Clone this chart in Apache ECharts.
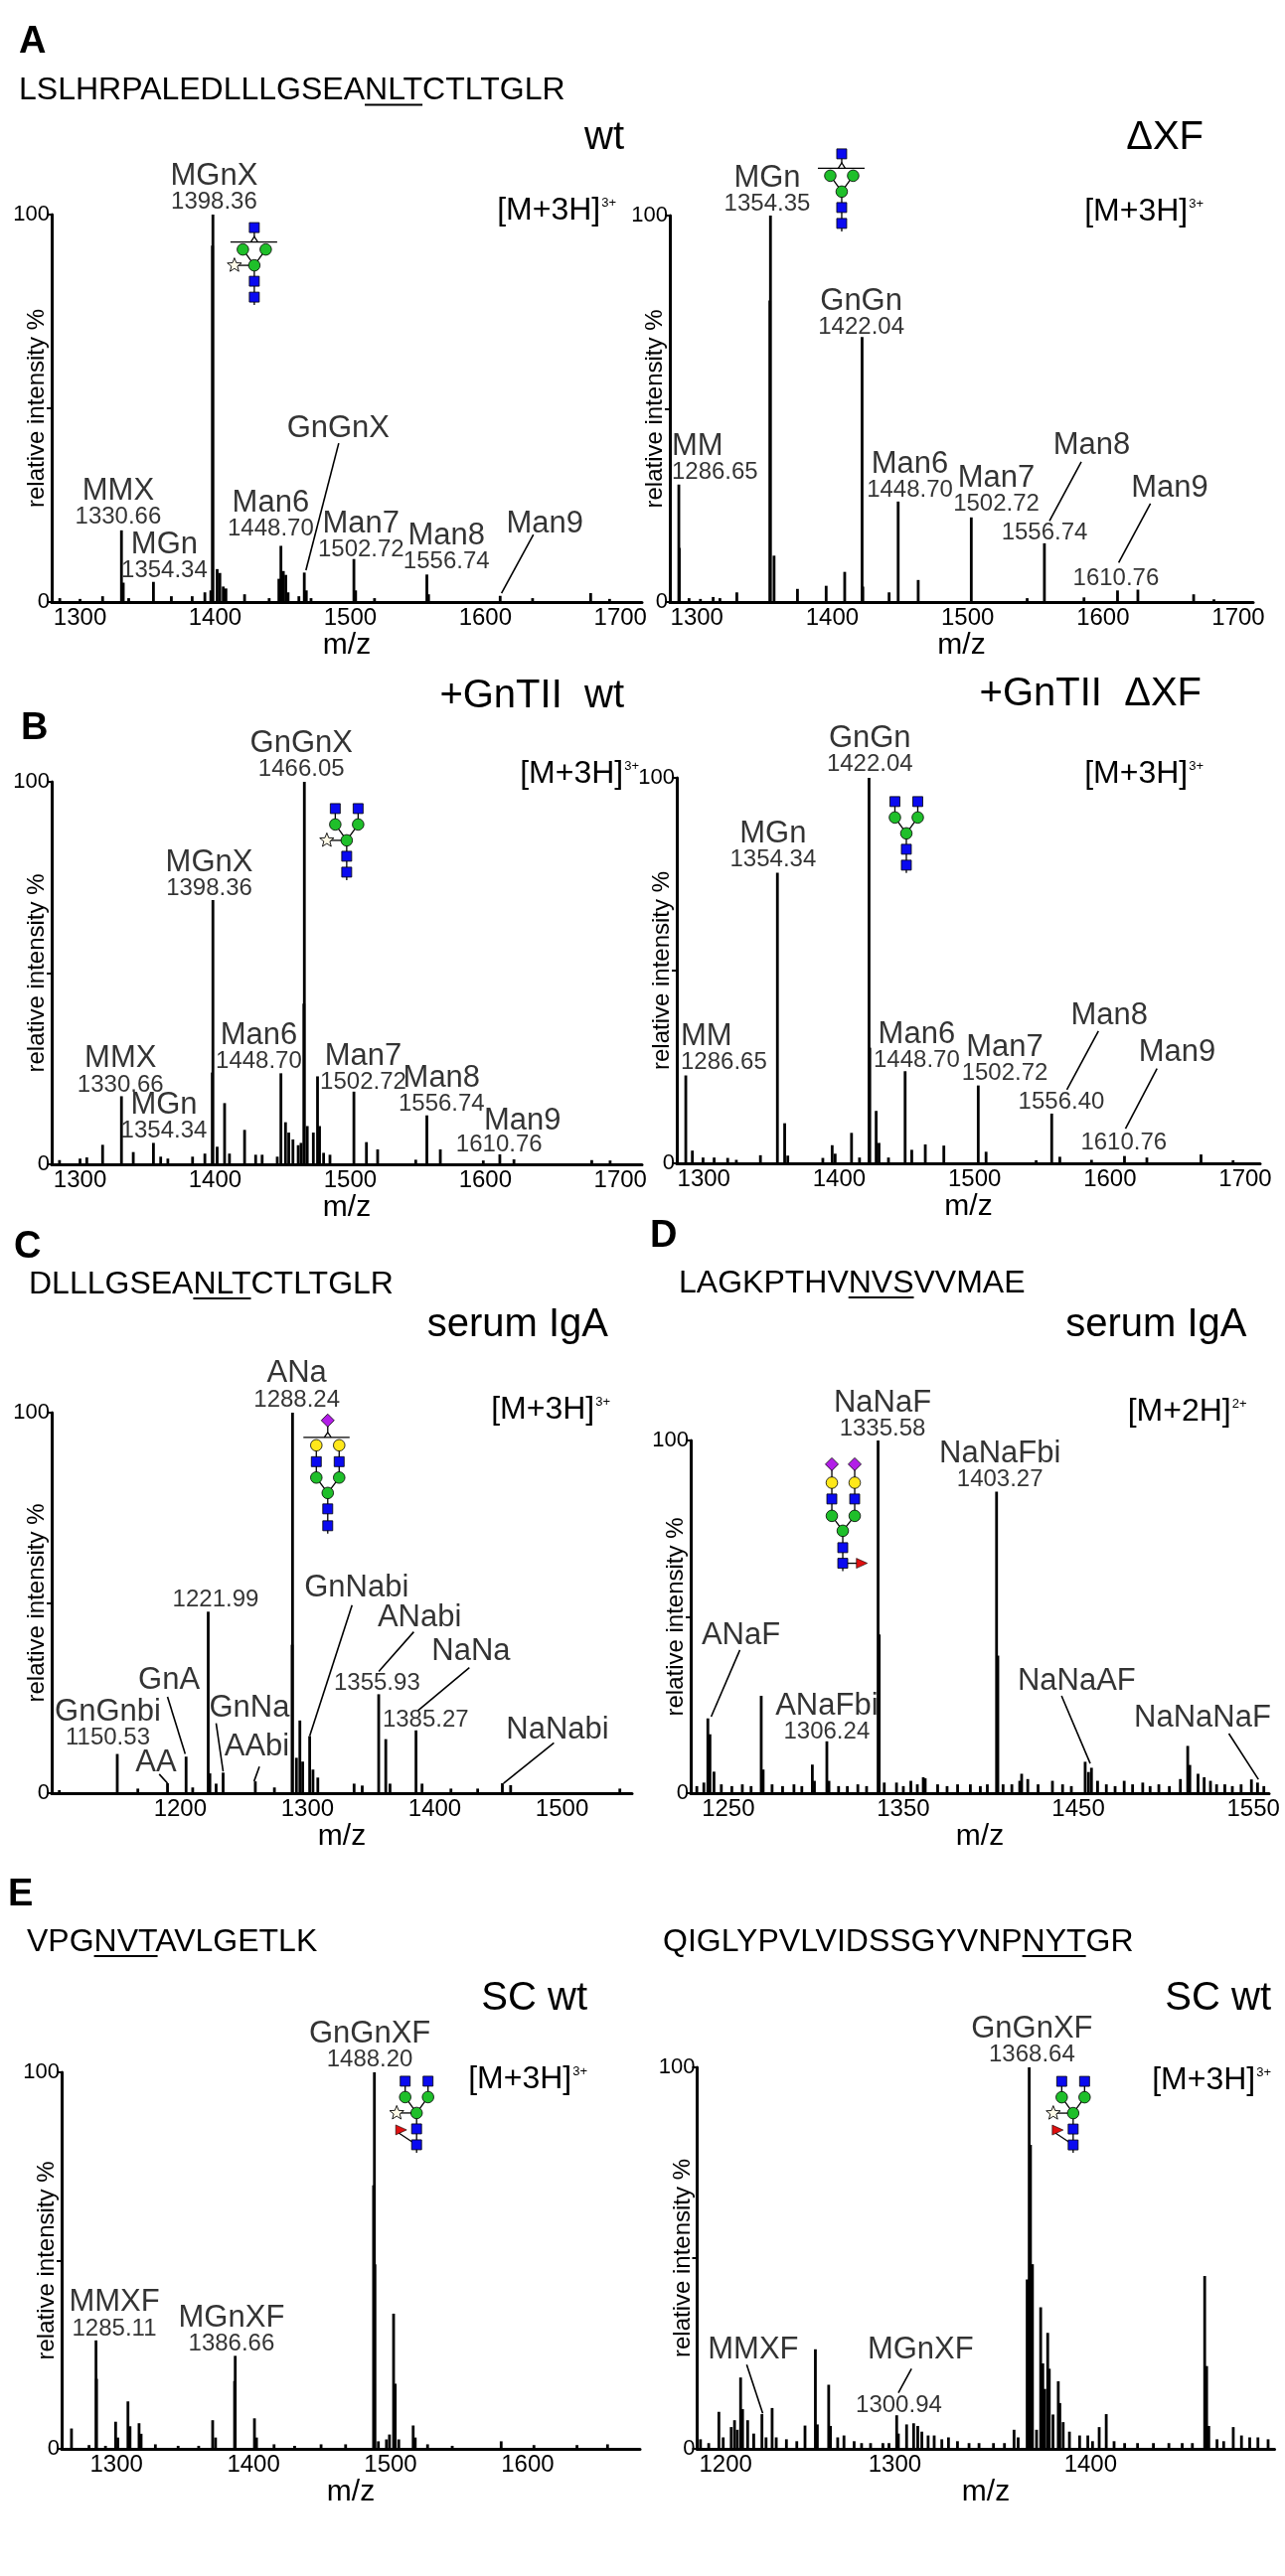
<!DOCTYPE html>
<html>
<head>
<meta charset="utf-8">
<title>Glycopeptide mass spectra</title>
<script src="https://cdn.jsdelivr.net/npm/echarts@6/dist/echarts.min.js"></script>
<style>
html,body{margin:0;padding:0;background:#fff;}
#main{width:1293px;height:2593px;}
</style>
</head>
<body>
<div id="main"></div>
<script>
// ---- tick labels (m/z) ----
var ticksAB = [1300, 1400, 1500, 1600, 1700];
var ticksC = [1200, 1300, 1400, 1500];
var ticksD = [1250, 1350, 1450, 1550];
var ticksE1 = [1300, 1400, 1500, 1600];
var ticksE2 = [1200, 1300, 1400];

// ---- spectra: [m/z, relative intensity %] ----
var peaksA1 = [[1285,1.0],[1300,0.8],[1316.7,1.5],[1330.66,18.5],[1332,5],[1336,1],[1354.34,5.2],[1367.6,1.5],[1383,1.5],[1392.4,2.5],[1396.8,3],[1398.0,92],[1398.36,100],[1401.5,8.5],[1403.5,7.5],[1406,4],[1408,3.5],[1421.8,2],[1440,1],[1447.2,6],[1448.7,14.5],[1450.5,8],[1452.3,7],[1454,2.5],[1462,1.5],[1466,7.6],[1467.5,3],[1471,1],[1502.72,11.1],[1504,3],[1518,1],[1556.74,7.1],[1558,2],[1611,1.6],[1635,1],[1678,2.3],[1692,0.8]];
var peaksA2 = [[1286.65,30.4],[1287.0,14],[1294.2,1],[1302.6,0.8],[1312,1.3],[1317,1],[1329.5,2.5],[1353.9,78],[1354.35,100],[1357,12],[1374.3,3.4],[1395.5,4.2],[1409.2,7.8],[1422.04,68.6],[1422.6,4],[1442,2.5],[1448.7,26],[1463.5,5.7],[1502.72,21.9],[1544,1],[1556.74,15.2],[1586,1.2],[1610.76,3],[1625.8,3.2],[1667,2],[1682,0.7]];
var peaksB1 = [[1284.8,1.1],[1300,1.5],[1305,1.8],[1316.7,5.1],[1330.66,17.8],[1339.4,3.2],[1354.34,5.6],[1359.7,2],[1365,1.5],[1383.3,2],[1392.4,2.8],[1397.9,24],[1398.36,69.1],[1401.5,4.6],[1407,16],[1410.6,2.8],[1421.8,9],[1430,2.5],[1434.8,2.5],[1446,2],[1448.7,23.8],[1452.1,11],[1454.5,8.3],[1457.6,6.5],[1461.5,5],[1463.6,5.6],[1465.7,42],[1466.05,100],[1468.2,10],[1472.7,8.3],[1475.8,23],[1477.3,10],[1480.3,3],[1485,2.5],[1502.72,19],[1512,5.8],[1520.3,3.9],[1548.5,1.2],[1556.74,12.8],[1566.7,3.9],[1598.5,1],[1610.76,2.6],[1621.2,1.3],[1678.8,1.1],[1692.4,1]];
var peaksB2 = [[1286.65,22.8],[1291.5,3.3],[1299.4,1.5],[1307.6,1.5],[1317.6,1.4],[1324,0.9],[1341.8,2.1],[1354.34,75.4],[1359.7,10.4],[1362,2],[1387.9,1.4],[1394.8,4.7],[1397,2.5],[1409.1,7.9],[1415,1.5],[1422.04,100],[1422.6,30],[1427.3,13.6],[1429.4,5.3],[1436.4,1.5],[1448.7,23.9],[1453.6,3.5],[1463.6,4.9],[1477.3,4.6],[1502.72,20.2],[1508.5,3],[1545.5,0.8],[1557,12.9],[1563,1.7],[1586.4,0.9],[1610.76,1.9],[1627.3,1.5],[1667.3,2.3],[1691,0.8]];
var peaksC = [[1105,0.8],[1150.53,10.3],[1166.7,1.2],[1190,2.6],[1204.6,9.6],[1209.8,1.5],[1221.99,47.7],[1223.3,5.2],[1228.2,2.5],[1233.7,5.4],[1259,3.1],[1274,1.5],[1287.9,39],[1288.24,100],[1291.3,9.3],[1294,19.1],[1296.2,8.3],[1301.7,15],[1304.3,6.2],[1308.1,4.1],[1336.6,2.5],[1343,2],[1355.93,26],[1361.5,14.2],[1364.8,2.5],[1385.27,16.5],[1390,2.5],[1412.7,1.2],[1433.7,1.2],[1453.1,2.6],[1459.6,2.1],[1545.4,1.2]];
var peaksD = [[1232,2],[1236,3],[1238.3,21.2],[1239.5,16.7],[1241.8,6.1],[1246,2.5],[1252,2],[1258,2.5],[1263,2],[1268.8,27.6],[1269.9,6.7],[1275,2.5],[1281,2],[1287.5,2.5],[1292,2],[1298,8.1],[1299.2,3.5],[1306.3,14.7],[1307.5,3.5],[1313,2],[1318,2],[1324,2.5],[1329,2],[1335.58,100],[1336.2,45],[1339.1,3],[1346.1,3],[1350,2],[1354.3,3.5],[1358,2.5],[1361.4,4.5],[1362.5,4.2],[1369.6,2.5],[1375,2],[1381,2.5],[1388.3,2.5],[1394,2],[1398,2.5],[1403.27,85.5],[1404,39],[1407,2.5],[1412,2.5],[1416.5,3.5],[1417.6,5.5],[1421.1,4],[1427,2.5],[1435.2,3.5],[1441,2.5],[1446,2],[1453.9,8.9],[1455.8,6],[1457.5,7.2],[1461,3.5],[1466,2.5],[1471,2],[1476.2,3.5],[1481,2.5],[1486.8,3],[1491,2],[1496,2.5],[1502,2],[1508.3,4],[1512.5,13.4],[1513.7,8],[1518.4,5.5],[1521.9,4.5],[1525.5,3.5],[1529,2.5],[1533.7,2.5],[1538,2],[1543,2.5],[1548.9,3.9],[1552.4,3],[1556,2]];
var peaksE1 = [[1267.2,5.4],[1280,1],[1285.11,28.8],[1285.5,18.6],[1292,0.8],[1299.4,7.2],[1301,3],[1308.4,12.6],[1309.9,6],[1316.5,6.8],[1318,4],[1328.4,1.2],[1345,0.8],[1360,0.8],[1370.2,7.6],[1372.3,3],[1386.2,18],[1386.66,24.7],[1400.7,8.1],[1402.2,3],[1415,1.2],[1430,0.8],[1449.3,1.2],[1467.2,1.2],[1487.6,70],[1488.2,100],[1488.6,49],[1491.1,2],[1497,2.5],[1499.2,3.8],[1502.2,35.9],[1503.4,17.3],[1506,2.5],[1516.5,6.2],[1518,3],[1527,1.2],[1545,0.8],[1580.7,2],[1604.6,1],[1636,1],[1658.3,1.2]];
var peaksE2 = [[1200.7,2.5],[1204.9,1.5],[1210.1,9.7],[1212.3,3],[1216.4,5.7],[1218.1,7.5],[1219.5,5],[1221.2,18.7],[1222.2,10.4],[1224.8,7.5],[1227.9,4],[1232.1,9.1],[1234.2,3],[1237.3,10.7],[1239.4,3],[1244.6,2.5],[1249.9,2],[1254.1,6.1],[1259.4,26.1],[1260.4,6.4],[1266.2,16.8],[1267.1,6],[1270.8,3],[1274,3.5],[1279.2,2],[1283,1.5],[1287.6,1.5],[1293.9,1.5],[1297,1.5],[1300.94,8.8],[1301.8,4],[1306,6.4],[1309.6,6.7],[1311.7,6],[1313.8,4.5],[1317,3.5],[1320.1,3.5],[1324,2.5],[1327.4,3],[1332,2],[1337.9,1.5],[1343,1.5],[1350.4,1.5],[1356,1.5],[1360.9,5],[1363,3],[1367.6,44.4],[1368.64,100],[1369.3,79.7],[1370.3,48.4],[1372.4,5],[1374.5,37.1],[1375.6,22.4],[1376.6,15.7],[1378.1,30.4],[1378.9,21],[1380.8,9],[1383.5,17.7],[1384.3,12],[1386,7],[1389.2,4.5],[1394.4,3.5],[1398.6,3.5],[1401,2],[1404.4,5.7],[1408,9.1],[1412,2],[1417.4,1.5],[1424,1.5],[1432.1,1.5],[1440,1.5],[1446.8,1.5],[1452,1.5],[1458.3,45.3],[1459.3,21.7],[1460.4,6],[1464.6,2.5],[1468,2],[1472.9,5.7],[1477.1,3.5],[1481.3,3],[1485.5,3],[1490.7,2.5]];

// ---- peak annotations: [glycan name, m/z text, anchor m/z, anchor %, align] ----
var labelsA1 = [['MGnX','1398.36',1399.6,101],['MMX','1330.66',1328.6,19.7],['MGn','1354.34',1362.8,5.9],['Man6','1448.70',1441.5,16.7],['GnGnX','',1491.5,42],['Man7','1502.72',1508.4,11.3],['Man8','1556.74',1571.6,8.2],['Man9','',1644.4,17.4]];
var leadersA1 = [[[1491.5,41],[1467.2,8.2]],[[1635.6,17.4],[1612,2.3]]];
var labelsA2 = [['MM','1286.65',1281.8,31.4,'left'],['MGn','1354.35',1352.3,100.8],['GnGn','1422.04',1421.8,69],['Man6','1448.70',1457.7,26.8],['Man7','1502.72',1521.6,23.2],['Man8','',1592,37.7],['','1556.74',1557.2,15.6],['Man9','',1649.7,26.8],['','1610.76',1610,3.9]];
var leadersA2 = [[[1584,36.3],[1560.5,21]],[[1635.1,25.5],[1611.6,10.2]]];
var labelsB1 = [['GnGnX','1466.05',1464.2,101.1],['MGnX','1398.36',1396,70],['MMX','1330.66',1330.3,18.6],['MGn','1354.34',1362.5,6.5],['Man6','1448.70',1432.7,24.6],['Man7','1502.72',1510,19.3],['Man8','1556.74',1568,13.5],['Man9','',1627.9,8.6],['','1610.76',1610.6,3]];
var leadersB1 = [];
var labelsB2 = [['GnGn','1422.04',1423,101.4],['MGn','1354.34',1351.5,76.6],['MM','1286.65',1283.3,23.9,'left'],['Man6','1448.70',1457.6,24.6],['Man7','1502.72',1522.7,21.1],['Man8','',1600,35.7],['','1556.40',1564.5,13.6],['Man9','',1650,26],['','1610.76',1610.6,3]];
var leadersB2 = [[[1591.5,34.3],[1568.2,19.1]],[[1634.8,24.6],[1611.5,9]]];
var labelsC = [['ANa','1288.24',1292,101.2],['','1221.99',1228.2,48.6],['GnGnbi','1150.53',1143.5,12.2],['GnA','',1191.6,26.9],['AA','',1181.3,5.2],['GnNa','',1254.7,19.6],['AAbi','',1260.6,9.3],['GnNabi','',1338.9,51.1],['ANabi','',1388.4,43.4],['','1355.93',1355,26.7],['NaNa','',1428.8,34.6],['','1385.27',1393.2,17],['NaNabi','',1496.8,13.9]];
var leadersC = [[[1190,25.3],[1203.9,10.3]],[[1183.5,5],[1190,2.6]],[[1228.2,18.4],[1233.7,5.7]],[[1262.2,7],[1258,3.1]],[[1335,49.4],[1301.7,15]],[[1383.5,42.4],[1356,32]],[[1427.2,33],[1386.8,21.7]],[[1493.6,13.2],[1454,2.6]]];
var labelsD = [['NaNaF','1335.58',1338.4,100.8],['NaNaFbi','1403.27',1405.5,86.6],['ANaF','',1257.5,41.8],['ANaFbi','1306.24',1306.5,15],['NaNaAF','',1449.3,28.7],['NaNaNaF','',1521.2,18.4]];
var leadersD = [[[1256.6,40.6],[1240.2,21.7]],[[1440.4,27.6],[1456.8,8.4]],[[1536,16.9],[1552.9,3.9]]];
var labelsE1 = [['GnGnXF','1488.20',1485.2,101.1],['MMXF','1285.11',1298.8,29.7],['MGnXF','1386.66',1384.3,25.7]];
var leadersE1 = [];
var labelsE2 = [['GnGnXF','1368.64',1370.3,101.1],['MMXF','',1227.9,23.1],['MGnXF','',1313.4,23.1],['','1300.94',1302.3,9.1]];
var leadersE2 = [[[1224.3,22.1],[1232.5,9.3]],[[1308.5,21],[1301.8,14.7]]];

// ---- glycan cartoons anchored in data space: [panel, type, m/z, %, xylose, fucose] ----
var glycans = [[0,'M',1429,86.9,true,false],[1,'M',1407,106.2,false,false],[2,'GG',1497.4,84.7,true,false],[3,'GG',1449.6,85.6,false,false],[4,'ANa',1315.9,78.9,false,false],[5,'NaNaF',1315.4,74.4,false,true],[6,'GG',1519,89.2,true,true],[7,'GG',1391.1,88.0,true,true]];

// ---- layout ----
var FONT = "'Liberation Sans', Arial, Helvetica, sans-serif";
var panels = [
  {left:52, top:216, width:594, height:390, min:1279, max:1716, ticks:ticksAB, peaks:peaksA1, labels:labelsA1, leaders:leadersA1, gap:22},
  {left:674, top:217, width:587, height:389, min:1280, max:1711, ticks:ticksAB, peaks:peaksA2, labels:labelsA2, leaders:leadersA2, gap:22},
  {left:52, top:787, width:594, height:385, min:1279, max:1716, ticks:ticksAB, peaks:peaksB1, labels:labelsB1, leaders:leadersB1, gap:22},
  {left:681, top:783, width:587, height:388, min:1280, max:1711, ticks:ticksAB, peaks:peaksB2, labels:labelsB2, leaders:leadersB2, gap:22},
  {left:52, top:1422, width:584, height:383, min:1099, max:1555, ticks:ticksC, peaks:peaksC, labels:labelsC, leaders:leadersC, gap:22},
  {left:695, top:1450, width:582, height:355, min:1228.5, max:1559, ticks:ticksD, peaks:peaksD, labels:labelsD, leaders:leadersD, gap:22},
  {left:62, top:2086, width:582, height:379, min:1260, max:1682, ticks:ticksE1, peaks:peaksE1, labels:labelsE1, leaders:leadersE1, gap:27},
  {left:701.5, top:2081, width:581, height:384, min:1199, max:1494, ticks:ticksE2, peaks:peaksE2, labels:labelsE2, leaders:leadersE2, gap:27, firstLeft:true}
];

function renderPeak(params, api) {
  var x = api.value(0), h = api.value(1);
  var a = api.coord([x, 0]), b = api.coord([x, h]);
  return {type: 'line', shape: {x1: a[0], y1: a[1], x2: b[0], y2: b[1]}, style: {stroke: '#000', lineWidth: 2.8}};
}

function labelText(d) {
  var s = [];
  if (d[0]) s.push('{n|' + d[0] + '}');
  if (d[1]) s.push('{v|' + d[1] + '}');
  return s.join('\n');
}

var grids = [], xAxes = [], yAxes = [], series = [];
panels.forEach(function (p, i) {
  grids.push({left: p.left, top: p.top, width: p.width, height: p.height, containLabel: false});
  xAxes.push({
    gridIndex: i, type: 'value', min: p.min, max: p.max,
    name: 'm/z', nameLocation: 'middle', nameGap: p.gap,
    nameTextStyle: {fontFamily: FONT, fontSize: 30, color: '#000'},
    axisLine: {onZero: false, lineStyle: {color: '#000', width: 3}},
    axisTick: {show: false},
    axisLabel: {fontFamily: FONT, fontSize: 24, color: '#000', margin: 4, customValues: p.ticks,
      alignMinLabel: p.firstLeft ? 'left' : null,
      formatter: function (v) { return String(v); }},
    splitLine: {show: false}
  });
  yAxes.push({
    gridIndex: i, type: 'value', min: 0, max: 100, interval: 50,
    name: 'relative intensity %', nameLocation: 'middle', nameGap: 2.5, nameMoveOverlap: false,
    nameTextStyle: {fontFamily: FONT, fontSize: 24, color: '#000'},
    axisLine: {show: true, onZero: false, lineStyle: {color: '#000', width: 3}},
    axisTick: {show: true, length: 5, lineStyle: {color: '#000', width: 2}},
    axisLabel: {fontFamily: FONT, fontSize: 22, color: '#000', margin: 2,
      formatter: function (v) { return v === 50 ? '' : String(v); }},
    splitLine: {show: false}
  });
  series.push({
    type: 'custom', xAxisIndex: i, yAxisIndex: i, encode: {x: 0, y: 1},
    data: p.peaks, renderItem: renderPeak, silent: true, z: 3
  });
  series.push({
    type: 'scatter', xAxisIndex: i, yAxisIndex: i, symbol: 'circle', symbolSize: 1, clip: false, silent: true, z: 4,
    itemStyle: {color: 'rgba(0,0,0,0)'},
    label: {
      show: true, position: [0, 0], verticalAlign: 'bottom', color: '#000',
      rich: {
        n: {fontFamily: FONT, fontSize: 31, lineHeight: 30, color: '#000'},
        v: {fontFamily: FONT, fontSize: 24, lineHeight: 22, color: '#000'}
      }
    },
    data: p.labels.map(function (d) {
      return {value: [d[2], d[3]], label: {formatter: labelText(d), align: d[4] || 'center', offset: [0, d[1] ? 3 : 5]}};
    }),
    markLine: {
      silent: true, animation: false, symbol: ['none', 'none'], label: {show: false},
      lineStyle: {color: '#000', width: 1.6, type: 'solid'},
      data: p.leaders.map(function (l) { return [{coord: l[0]}, {coord: l[1]}]; })
    }
  });
});

var chart = echarts.init(document.getElementById('main'), null, {renderer: 'canvas', width: 1293, height: 2593});
chart.setOption({
  animation: false,
  backgroundColor: '#fff',
  grid: grids, xAxis: xAxes, yAxis: yAxes, series: series
});

// ---- text decorations ----
var ctx = document.createElement('canvas').getContext('2d');
function textWidth(t, size, weight) {
  ctx.font = (weight || 'normal') + ' ' + size + 'px ' + FONT;
  return ctx.measureText(t).width;
}
function txt(t, x, y, size, align, weight) {
  return {type: 'text', x: x, y: y, z: 50, silent: true,
    style: {text: t, fontSize: size, fontFamily: FONT, fontWeight: weight || 'normal', fill: '#000',
      align: align, verticalAlign: 'middle'}};
}

var letters = [['A',19,42.5],['B',21,733.5],['C',14,1256],['D',654,1244.5],['E',8,1907.5]];
var sequences = [
  ['LSLHRPALEDLLLGSEA','NLT','CTLTGLR',19,91.5],
  ['DLLLGSEA','NLT','CTLTGLR',29,1293],
  ['LAGKPTHV','NVS','VVMAE',683,1292],
  ['VPG','NVT','AVLGETLK',27,1955],
  ['QIGLYPVLVIDSSGYVNP','NYT','GR',667,1955]
];
var conditions = [['wt',628,139],['\u0394XF',1211,138.6],['+GnTII  wt',628,701],['+GnTII  \u0394XF',1209,699],['serum IgA',612,1334],['serum IgA',1254.5,1334],['SC wt',591,2011.5],['SC wt',1279,2011.5]];
var ions = [['[M+3H]','3+',620,212],['[M+3H]','3+',1211,213],['[M+3H]','3+',643,779],['[M+3H]','3+',1211,779],['[M+3H]','3+',614,1419.5],['[M+2H]','2+',1254.5,1421.4],['[M+3H]','3+',591,2093],['[M+3H]','3+',1279,2094.6]];

var gfx = [];
letters.forEach(function (l) { gfx.push(txt(l[0], l[1], l[2], 38, 'left', 'bold')); });
sequences.forEach(function (s) {
  var full = s[0] + s[1] + s[2];
  gfx.push(txt(full, s[3], s[4], 32, 'left'));
  var x1 = s[3] + textWidth(s[0], 32), x2 = s[3] + textWidth(s[0] + s[1], 32);
  gfx.push({type: 'line', z: 50, silent: true, shape: {x1: x1, y1: s[4] + 14, x2: x2, y2: s[4] + 14}, style: {stroke: '#000', lineWidth: 2}});
});
conditions.forEach(function (c) { gfx.push(txt(c[0], c[1], c[2], 40, 'right')); });
ions.forEach(function (c) {
  var ws = textWidth(c[1], 13);
  gfx.push(txt(c[1], c[2], c[3] - 8, 13, 'right'));
  gfx.push(txt(c[0], c[2] - ws - 1, c[3], 32, 'right'));
});

// ---- glycan symbols ----
var BLUE = '#0a0af0', GREEN = '#1fbf2a', YELLOW = '#ffe81a', PURPLE = '#b21ee8', RED = '#e01010', XYL = '#fffbe8';
function glycan(type, cx, cy, xyl, fuc) {
  var L = [], S = [];
  function ln(a, b) { L.push({type: 'line', z: 60, silent: true, shape: {x1: cx + a[0], y1: cy + a[1], x2: cx + b[0], y2: cy + b[1]}, style: {stroke: '#000', lineWidth: 1.3}}); }
  function pl(pts) { L.push({type: 'polyline', z: 60, silent: true, shape: {points: pts.map(function (p) { return [cx + p[0], cy + p[1]]; })}, style: {stroke: '#000', lineWidth: 1.3, fill: null}}); }
  function sq(p) { S.push({type: 'rect', z: 61, silent: true, shape: {x: cx + p[0] - 5, y: cy + p[1] - 5, width: 10, height: 10}, style: {fill: BLUE, stroke: '#000', lineWidth: 0.8}}); }
  function ci(p, c) { S.push({type: 'circle', z: 61, silent: true, shape: {cx: cx + p[0], cy: cy + p[1], r: 5.8}, style: {fill: c || GREEN, stroke: '#000', lineWidth: 0.8}}); }
  function di(p) { var x = cx + p[0], y = cy + p[1]; S.push({type: 'polygon', z: 61, silent: true, shape: {points: [[x, y - 6.5], [x + 6.5, y], [x, y + 6.5], [x - 6.5, y]]}, style: {fill: PURPLE, stroke: '#000', lineWidth: 0.8}}); }
  function st(p) {
    var pts = [];
    for (var k = 0; k < 10; k++) { var r = k % 2 ? 3.2 : 7.5, a = -Math.PI / 2 + k * Math.PI / 5; pts.push([cx + p[0] + r * Math.cos(a), cy + p[1] + r * Math.sin(a)]); }
    S.push({type: 'polygon', z: 61, silent: true, shape: {points: pts}, style: {fill: XYL, stroke: '#000', lineWidth: 0.9}});
  }
  function tr(p) { var x = cx + p[0], y = cy + p[1]; S.push({type: 'polygon', z: 61, silent: true, shape: {points: [[x - 5, y - 5], [x + 6, y], [x - 5, y + 5]]}, style: {fill: RED, stroke: '#000', lineWidth: 0.6}}); }

  if (type === 'M') {
    ln([0, 0], [-11.5, -16]); ln([0, 0], [11.5, -16]); ln([0, 0], [0, 40]);
    ln([-24, -23.5], [23, -23.5]); pl([[-3.5, -23.5], [0, -29], [3.5, -23.5]]); ln([0, -29], [0, -38]);
    sq([0, -38]); ci([-11.5, -16]); ci([11.5, -16]); ci([0, 0]); sq([0, 16]); sq([0, 32]);
  } else if (type === 'GG') {
    ln([-11.5, -32], [-11.5, -16]); ln([11.5, -32], [11.5, -16]);
    ln([0, 0], [-11.5, -16]); ln([0, 0], [11.5, -16]); ln([0, 0], [0, 40]);
    sq([-11.5, -32]); sq([11.5, -32]); ci([-11.5, -16]); ci([11.5, -16]); ci([0, 0]); sq([0, 16]); sq([0, 32]);
  } else if (type === 'ANa') {
    ln([0, 0], [0, 41]); ln([0, 0], [-11.5, -15.5]); ln([0, 0], [11.5, -15.5]);
    ln([-11.5, -15.5], [-11.5, -48]); ln([11.5, -15.5], [11.5, -48]);
    ln([-24.5, -56], [22, -56]); pl([[-3.5, -56], [0, -61], [3.5, -56]]); ln([0, -61], [0, -73]);
    di([0, -73]); ci([-11.5, -48], YELLOW); ci([11.5, -48], YELLOW); sq([-11.5, -31.5]); sq([11.5, -31.5]);
    ci([-11.5, -15.5]); ci([11.5, -15.5]); ci([0, 0]); sq([0, 16]); sq([0, 33]);
  } else if (type === 'NaNaF') {
    ln([0, 0], [0, 40.5]); ln([0, 0], [-11, -15]); ln([0, 0], [12, -15]);
    ln([-11, -15], [-11, -67]); ln([12, -15], [12, -67]); ln([0, 32.7], [16, 32.7]);
    di([-11, -67]); di([12, -67]); ci([-11, -48.4], YELLOW); ci([12, -48.4], YELLOW);
    sq([-11, -32]); sq([12, -32]); ci([-11, -15]); ci([12, -15]); ci([0, 0]); sq([0, 17]); sq([0, 32.7]); tr([18.7, 32.7]);
  }
  if (xyl) { ln([0, 0], [-20, 0]); st([-20, 0]); }
  if (fuc && type === 'GG') { ln([-18, 20], [0, 32]); tr([-16, 17]); }
  return L.concat(S);
}

glycans.forEach(function (g) {
  var p = chart.convertToPixel({gridIndex: g[0]}, [g[2], g[3]]);
  gfx = gfx.concat(glycan(g[1], p[0], p[1], g[4], g[5]));
});

chart.setOption({graphic: {elements: gfx}});
</script>
</body>
</html>
